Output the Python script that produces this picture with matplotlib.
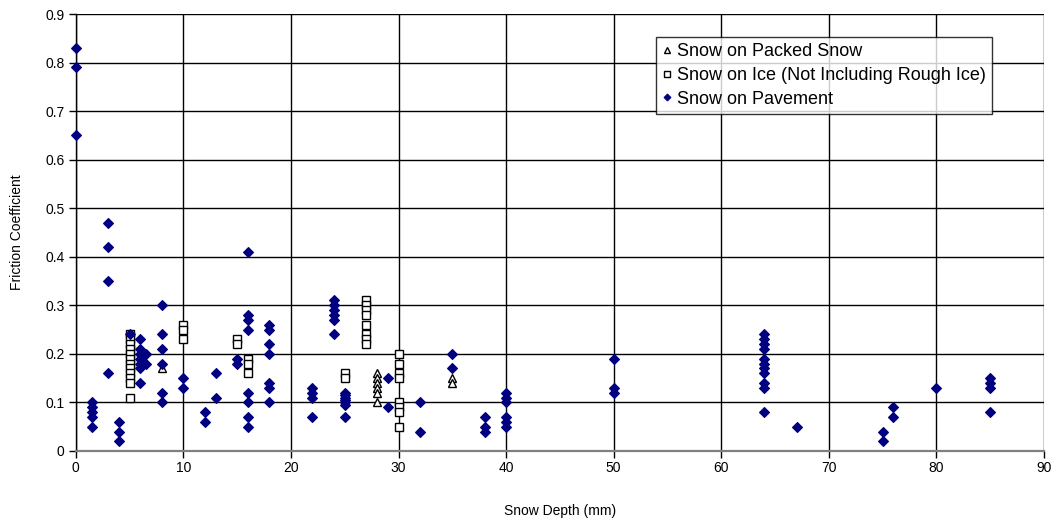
import matplotlib
matplotlib.use("Agg")
import matplotlib.pyplot as plt

plt.rcParams['font.family'] = ['Liberation Sans', 'DejaVu Sans']

# Snow on Packed Snow
packed_x = [8, 28, 28, 28, 28, 28, 28, 35, 35]
packed_y = [0.17, 0.16, 0.15, 0.14, 0.13, 0.12, 0.10, 0.15, 0.14]

# Snow on Ice (Not Including Rough Ice)
ice_x = [5] * 12 + [10] * 3 + [15] * 2 + [16] * 3 + [25] * 2 + [27] * 8 + [30] * 8
ice_y = [0.24, 0.23, 0.22, 0.21, 0.20, 0.19, 0.18, 0.17, 0.16, 0.15, 0.14, 0.11,
         0.26, 0.25, 0.23,
         0.23, 0.22,
         0.19, 0.18, 0.16,
         0.16, 0.15,
         0.31, 0.30, 0.29, 0.28, 0.26, 0.24, 0.23, 0.22,
         0.20, 0.18, 0.16, 0.15, 0.10, 0.09, 0.08, 0.05]

# Snow on Pavement
pave_x = ([0] * 3 + [1.5] * 5 + [3] * 4 + [4] * 3 + [5] + [6] * 7 + [6.5] * 2 +
          [8] * 6 + [10] * 2 + [12] * 2 + [13] * 2 + [15] * 2 + [16] * 8 +
          [18] * 7 + [22] * 4 + [24] * 6 + [25] * 7 + [29] * 2 + [32] * 2 +
          [35] * 2 + [38] * 3 + [40] * 6 + [50] * 3 + [64] * 11 + [67] +
          [75] * 2 + [76] * 2 + [80] + [85] * 4)
pave_y = [0.83, 0.79, 0.65,
          0.10, 0.09, 0.08, 0.07, 0.05,
          0.47, 0.42, 0.35, 0.16,
          0.06, 0.04, 0.02,
          0.24,
          0.23, 0.21, 0.20, 0.19, 0.18, 0.17, 0.14,
          0.20, 0.18,
          0.30, 0.24, 0.21, 0.18, 0.12, 0.10,
          0.15, 0.13,
          0.08, 0.06,
          0.16, 0.11,
          0.19, 0.18,
          0.41, 0.28, 0.27, 0.25, 0.12, 0.10, 0.07, 0.05,
          0.26, 0.25, 0.22, 0.20, 0.14, 0.13, 0.10,
          0.13, 0.12, 0.11, 0.07,
          0.31, 0.30, 0.29, 0.28, 0.27, 0.24,
          0.12, 0.115, 0.11, 0.105, 0.10, 0.095, 0.07,
          0.15, 0.09,
          0.10, 0.04,
          0.20, 0.17,
          0.07, 0.05, 0.04,
          0.12, 0.11, 0.10, 0.07, 0.06, 0.05,
          0.19, 0.13, 0.12,
          0.24, 0.23, 0.22, 0.21, 0.19, 0.18, 0.17, 0.16, 0.14, 0.13, 0.08,
          0.05,
          0.04, 0.02,
          0.09, 0.07,
          0.13,
          0.15, 0.14, 0.13, 0.08]

x_ticks = list(range(0, 91, 10))
y_ticks = [0, 0.1, 0.2, 0.3, 0.4, 0.5, 0.6, 0.7, 0.8, 0.9]
y_tick_labels = ['0', '0.1', '0.2', '0.3', '0.4', '0.5', '0.6', '0.7', '0.8', '0.9']

fig = plt.figure(figsize=(10.58, 5.23), dpi=100)
ax = fig.add_axes([0.0716, 0.1377, 0.9152, 0.8355])

ax.plot(packed_x, packed_y, linestyle='none', marker='^', ms=5.8,
        mfc='white', mec='black', mew=1.0, label='Snow on Packed Snow',
        zorder=3, clip_on=False)
ax.plot(ice_x, ice_y, linestyle='none', marker='s', ms=5.5,
        mfc='white', mec='black', mew=1.0,
        label='Snow on Ice (Not Including Rough Ice)', zorder=3, clip_on=False)
ax.plot(pave_x, pave_y, linestyle='none', marker='D', ms=4.6,
        mfc='#000080', mec='#000080', mew=0.8, label='Snow on Pavement',
        zorder=4, clip_on=False)

ax.set_xlim(0, 90)
ax.set_ylim(0, 0.9)
ax.set_xticks(x_ticks)
ax.set_yticks(y_ticks)
ax.set_yticklabels(y_tick_labels)
ax.grid(True, color='black', linewidth=1.0, zorder=1)
ax.set_axisbelow(True)

for side in ['top', 'right']:
    ax.spines[side].set_visible(False)
ax.spines['left'].set_color('black')
ax.spines['left'].set_linewidth(1.0)
ax.spines['bottom'].set_color('#808080')
ax.spines['bottom'].set_linewidth(1.6)

ax.tick_params(axis='both', direction='out', length=5, width=1, color='black',
               labelsize=10)
ax.tick_params(axis='x', pad=2)
ax.tick_params(axis='y', pad=3)

ax.set_xlabel('Snow Depth (mm)', fontsize=10, labelpad=21)
ax.set_ylabel('Friction Coefficient', fontsize=10, labelpad=15)

leg = ax.legend(loc='upper left', bbox_to_anchor=(0.599, 0.948), borderaxespad=0,
                fontsize=13, frameon=True, fancybox=False, shadow=False,
                handlelength=0.5, handletextpad=0.3, borderpad=0.35,
                labelspacing=0.38, markerscale=0.75)
leg.get_frame().set_edgecolor('black')
leg.get_frame().set_linewidth(1.0)

fig.savefig('out.png', dpi=100)
